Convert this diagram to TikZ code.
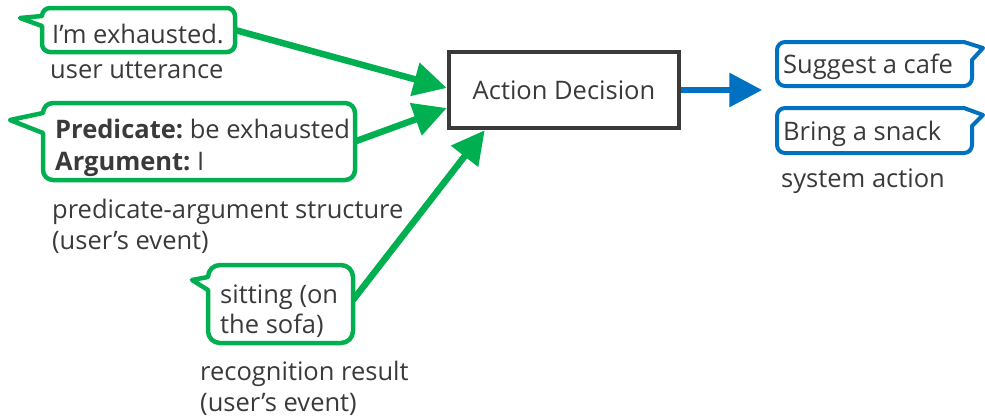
\documentclass[tikz,border=0pt]{standalone}
\usepackage{fontspec}
\setmainfont{Open Sans}
\frenchspacing
\usetikzlibrary{arrows.meta,calc}
\definecolor{ggreen}{HTML}{00B050}
\definecolor{gblue}{HTML}{0070C0}
\definecolor{ink}{HTML}{3A3A3A}
\begin{document}
\begin{tikzpicture}[x=1pt,y=-1pt,
  lbl/.style={anchor=base west, inner sep=0, text=ink, font=\fontsize{25.5}{30}\selectfont},
  gbub/.style={draw=ggreen, line width=4.5pt, fill=white, line join=round},
  bbub/.style={draw=gblue, line width=4pt, fill=white, line join=round},
  garrow/.style={draw=ggreen, line width=6.5pt, -{Triangle[length=33pt,width=33pt]}},
  barrow/.style={draw=gblue, line width=6.5pt, -{Triangle[length=33pt,width=33pt]}},
  area/.style={inner sep=0, outer sep=0},
  decide/.style={draw=ink, line width=4.5pt, fill=white, minimum width=230, minimum height=76,
    inner sep=0, text=ink, font=\fontsize{25.5}{30}\selectfont},
]
\useasboundingbox (0,0) rectangle (985,418);

% regions of the speech bubbles (used as connector ends)
\node[area, minimum width=193, minimum height=44] (utt) at (138.5,30) {};
\node[area, minimum width=312, minimum height=77] (pas) at (199,141.5) {};
\node[area, minimum width=145, minimum height=78] (rec) at (280.5,304) {};

% decision box
\node[decide] (act) at (564,90) {Action Decision};
\coordinate (out) at ($(act.east)+(81,0)$);

% connectors into and out of the decision
\draw[garrow] (utt.east) -- ($(act.west)+(0,-2)$);
\draw[garrow] (pas.east) -- ($(act.west)+(0,18)$);
\draw[garrow] ($(rec.east)+(0,-4)$) -- ($(act.south west)+(38,0)$);
\draw[barrow] (act.east) -- (out);

% green speech bubbles (tail on the left)
\draw[gbub] (20,18) -- (42,16) arc[start angle=180,end angle=270,radius=8]
  -- (227,8) arc[start angle=270,end angle=360,radius=8]
  -- (235,44) arc[start angle=0,end angle=90,radius=8]
  -- (50,52) arc[start angle=90,end angle=180,radius=8]
  -- (42,26) -- cycle;
\draw[gbub] (10,120) -- (43,113) arc[start angle=180,end angle=270,radius=10]
  -- (345,103) arc[start angle=270,end angle=360,radius=10]
  -- (355,170) arc[start angle=0,end angle=90,radius=10]
  -- (53,180) arc[start angle=90,end angle=180,radius=10]
  -- (43,133) -- cycle;
\draw[gbub] (192,280) -- (208,277) arc[start angle=180,end angle=270,radius=12]
  -- (341,265) arc[start angle=270,end angle=360,radius=12]
  -- (353,331) arc[start angle=0,end angle=90,radius=12]
  -- (220,343) arc[start angle=90,end angle=180,radius=12]
  -- (208,290) -- cycle;

% blue speech bubbles (tail on the upper right)
\draw[bbub] (785,42) -- (964,42) -- (983,48) -- (972,60)
  -- (972,78) arc[start angle=0,end angle=90,radius=8]
  -- (785,86) arc[start angle=90,end angle=180,radius=8]
  -- (777,50) arc[start angle=180,end angle=270,radius=8] -- cycle;
\draw[bbub] (785,108) -- (964,108) -- (983,115) -- (972,126)
  -- (972,145) arc[start angle=0,end angle=90,radius=8]
  -- (785,153) arc[start angle=90,end angle=180,radius=8]
  -- (777,116) arc[start angle=180,end angle=270,radius=8] -- cycle;

% texts
\node[lbl] (t1) at (52,43) {I’m exhausted.};
\node[lbl] (t2) at (50,78) {user utterance};
\node[lbl] (t3) at (55,138) {\textbf{Predicate:} be exhausted};
\node[lbl] (t4) at (55,170) {\textbf{Argument:} I};
\node[lbl] (t5) at (52,218) {predicate-argument structure};
\node[lbl] (t6) at (52,249) {(user’s event)};
\node[lbl] (t7) at (220,303) {sitting (on};
\node[lbl] (t8) at (220,333) {the sofa)};
\node[lbl] (t9) at (200,380) {recognition result};
\node[lbl] (t10) at (200,411) {(user’s event)};
\node[lbl] (t11) at (783,73) {Suggest a cafe};
\node[lbl] (t12) at (783,140) {Bring a snack};
\node[lbl] (t13) at (781,187) {system action};
\end{tikzpicture}
\end{document}
